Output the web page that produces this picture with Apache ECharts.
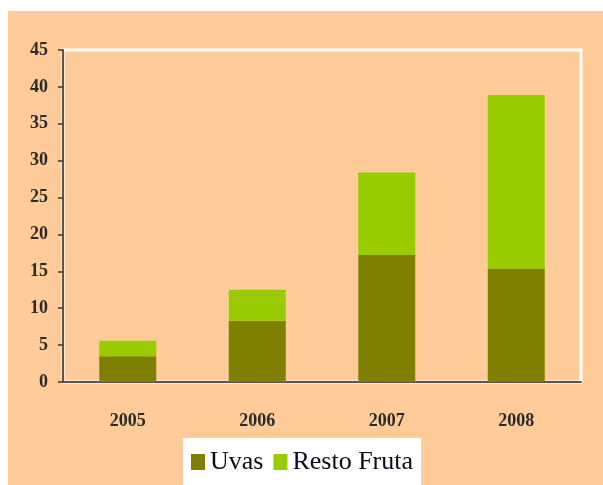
<!DOCTYPE html>
<html>
<head>
<meta charset="utf-8">
<script src="https://cdn.jsdelivr.net/npm/echarts@6/dist/echarts.min.js"></script>
<style>
  html, body { margin: 0; padding: 0; background: #fff; }
  #chart { position: absolute; left: 8px; top: 11px; width: 595px; height: 474px; }
</style>
</head>
<body>
<div id="chart"></div>
<script>
// datos
const years = ["2005", "2006", "2007", "2008"];
const uvas = [3.5, 8.3, 17.2, 15.3];
const restoFruta = [2.1, 4.2, 11.2, 23.6];
const yMax = 45;
const yStep = 5;

const chart = echarts.init(document.getElementById("chart"));
const serif = "Liberation Serif, DejaVu Serif, serif";

const option = {
  backgroundColor: "#FFCC99",
  animation: false,
  grid: {
    left: 55,
    right: 22,
    top: 39,
    bottom: 103,
    show: true,
    borderColor: "#ffffff",
    borderWidth: 3,
    backgroundColor: "transparent"
  },
  legend: {
    left: 175,
    top: 427,
    backgroundColor: "#ffffff",
    padding: [11, 8, 20, 8],
    itemWidth: 14,
    itemHeight: 16,
    itemGap: 10,
    icon: "rect",
    textStyle: { fontFamily: serif, fontSize: 26, color: "#0a0a1a" },
    data: ["Uvas", "Resto Fruta"]
  },
  xAxis: {
    type: "category",
    data: years,
    axisLine: { lineStyle: { color: "#555", width: 2 } },
    axisTick: { length: 10, lineStyle: { color: "#222", width: 2 } },
    axisLabel: { margin: 30, fontFamily: serif, fontSize: 18, fontWeight: "bold", color: "#2a2a2a" }
  },
  yAxis: {
    type: "value",
    min: 0,
    max: yMax,
    interval: yStep,
    splitLine: { show: false },
    axisLine: { show: true, lineStyle: { color: "#555", width: 2 } },
    axisTick: { show: true, length: 5, lineStyle: { color: "#333", width: 1.5 } },
    axisLabel: { margin: 15, fontFamily: serif, fontSize: 18, fontWeight: "bold", color: "#2a2a2a" }
  },
  series: [
    {
      name: "Uvas",
      type: "bar",
      stack: "total",
      barWidth: 57,
      itemStyle: { color: "#808000" },
      data: uvas
    },
    {
      name: "Resto Fruta",
      type: "bar",
      stack: "total",
      barWidth: 57,
      itemStyle: { color: "#99CC00" },
      data: restoFruta
    }
  ]
};

chart.setOption(option);
</script>
</body>
</html>
